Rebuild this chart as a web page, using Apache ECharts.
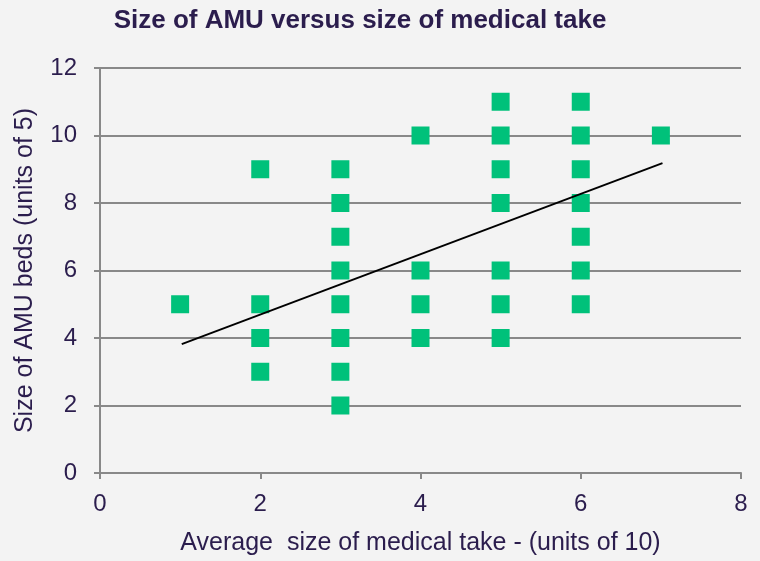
<!DOCTYPE html>
<html>
<head>
<meta charset="utf-8">
<script src="https://cdn.jsdelivr.net/npm/echarts@6/dist/echarts.min.js"></script>
<style>
html, body { margin: 0; padding: 0; background: #f3f3f3; }
#chart { width: 760px; height: 561px; }
</style>
</head>
<body>
<div id="chart"></div>
<script>
// medical take (units of 10) vs AMU beds (units of 5)
var takeSize = [1, 2, 2, 2, 2, 3, 3, 3, 3, 3, 3, 3, 3, 4, 4, 4, 4, 5, 5, 5, 5, 5, 5, 5, 6, 6, 6, 6, 6, 6, 6, 7]
var amuBeds  = [5, 9, 5, 4, 3, 9, 8, 7, 6, 5, 4, 3, 2, 10, 6, 5, 4, 11, 10, 9, 8, 6, 5, 4, 11, 10, 9, 8, 7, 6, 5, 10]
// trend line ends
var trendX = [1.02, 7.02]
var trendY = [3.82, 9.18]
var xTicks = [0, 2, 4, 6, 8]
var yTicks = [0, 2, 4, 6, 8, 10, 12]

var points = takeSize.map(function (x, i) { return [x, amuBeds[i]] })
var trend = trendX.map(function (x, i) { return [x, trendY[i]] })

var textCol = '#2b1d4d'
var chart = echarts.init(document.getElementById('chart'))
chart.setOption({
    backgroundColor: '#f3f3f3',
    animation: false,
    title: {
        text: 'Size of AMU versus size of medical take',
        left: 355,
        top: 3,
        textAlign: 'center',
        textStyle: { fontFamily: 'Liberation Sans', fontSize: 26, fontWeight: 'bold', color: textCol }
    },
    grid: { left: 100, right: 19, top: 68, bottom: 85 },
    xAxis: {
        type: 'value',
        min: xTicks[0],
        max: xTicks[xTicks.length - 1],
        interval: 2,
        name: 'Average  size of medical take - (units of 10)',
        nameLocation: 'middle',
        nameGap: 58,
        nameTextStyle: { fontFamily: 'Liberation Sans', fontSize: 25, color: textCol },
        axisLine: { show: true, lineStyle: { color: '#888888', width: 2 } },
        axisTick: { show: true, length: 6, lineStyle: { color: '#888888', width: 2 } },
        axisLabel: { margin: 19, fontFamily: 'Liberation Sans', fontSize: 24, color: textCol },
        splitLine: { show: false }
    },
    yAxis: {
        type: 'value',
        min: yTicks[0],
        max: yTicks[yTicks.length - 1],
        interval: 2,
        name: 'Size of AMU beds (units of 5)',
        nameLocation: 'middle',
        nameGap: 62,
        nameTextStyle: { fontFamily: 'Liberation Sans', fontSize: 25, color: textCol },
        axisLine: { show: true, lineStyle: { color: '#888888', width: 2 } },
        axisTick: { show: true, length: 6, lineStyle: { color: '#888888', width: 2 } },
        axisLabel: { margin: 23, fontFamily: 'Liberation Sans', fontSize: 24, color: textCol },
        splitLine: { show: true, lineStyle: { color: '#888888', width: 2 } }
    },
    series: [
        {
            type: 'scatter',
            symbol: 'rect',
            symbolSize: 18,
            itemStyle: { color: '#00c17a', opacity: 1 },
            data: points,
            z: 3
        },
        {
            type: 'line',
            data: trend,
            symbol: 'none',
            lineStyle: { color: '#000000', width: 2 },
            z: 4
        }
    ]
})
</script>
</body>
</html>
